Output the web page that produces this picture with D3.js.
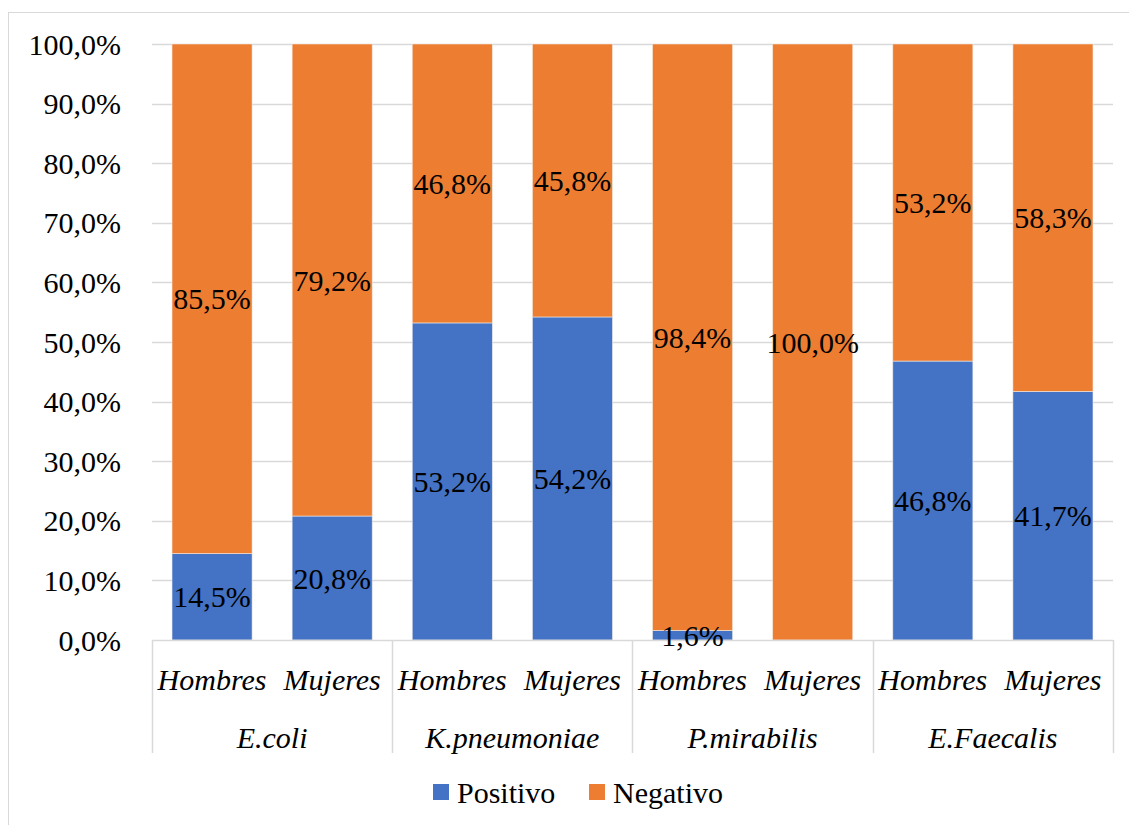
<!DOCTYPE html>
<html>
<head>
<meta charset="utf-8">
<script src="https://cdn.jsdelivr.net/npm/d3@7"></script>
</head>
<body style="margin:0">
<svg id="chart" width="1129" height="825" style="font-family: 'Liberation Serif', 'Times New Roman', serif"></svg>
<script>
// Bacteria groups and sex sub-categories
const organisms = ["E.coli", "K.pneumoniae", "P.mirabilis", "E.Faecalis"];
const sexes = ["Hombres", "Mujeres"];

// Percentage of positive / negative results per bar (organism x sex order)
const positivo = [14.5, 20.8, 53.2, 54.2, 1.6, 0.0, 46.8, 41.7];
const negativo = [85.5, 79.2, 46.8, 45.8, 98.4, 100.0, 53.2, 58.3];

const yTicks = [0, 10, 20, 30, 40, 50, 60, 70, 80, 90, 100];

const seriesNames = ["Positivo", "Negativo"];
const colors = { Positivo: "#4472C4", Negativo: "#ED7D31" };

// Build one row per bar
const rows = [];
organisms.forEach((org, i) => {
  sexes.forEach((sex, j) => {
    const k = i * sexes.length + j;
    rows.push({ id: org + "|" + sex, org, sex, Positivo: positivo[k], Negativo: negativo[k] });
  });
});

const svg = d3.select("#chart");
const plotLeft = 152, plotRight = 1113, plotTop = 44, plotBottom = 640;
const labelFont = "Liberation Serif";
const labelSize = 30;

// Chart frame
svg.append("rect")
  .attr("x", 8.5).attr("y", 12.5)
  .attr("width", 1140).attr("height", 840)
  .attr("fill", "none").attr("stroke", "#d9d9d9").attr("stroke-width", 1);

const x = d3.scaleBand()
  .domain(rows.map(d => d.id))
  .range([plotLeft, plotRight])
  .paddingInner(1 / 3)
  .paddingOuter(1 / 6);

const y = d3.scaleLinear().domain([0, 100]).range([plotBottom, plotTop]);

const fmt = v => d3.format(".1f")(v).replace(".", ",") + "%";

// Gridlines
svg.append("g")
  .selectAll("line")
  .data(yTicks.filter(t => t > 0))
  .join("line")
  .attr("x1", plotLeft).attr("x2", plotRight)
  .attr("y1", d => Math.round(y(d)) + 0.5).attr("y2", d => Math.round(y(d)) + 0.5)
  .attr("stroke", "#d9d9d9").attr("stroke-width", 1.5);

// Shared text styling
function styleText(sel) {
  sel.attr("font-family", labelFont)
    .style("font-family", "'Liberation Serif', 'Times New Roman', serif")
    .attr("font-size", labelSize)
    .attr("fill", "#000");
}

// Y tick labels
svg.append("g")
  .selectAll("text")
  .data(yTicks)
  .join("text")
  .call(styleText)
  .attr("x", 121)
  .attr("y", d => y(d))
  .attr("dy", "0.35em")
  .attr("text-anchor", "end")
  .text(d => fmt(d));

// Stacked bars
const stacked = d3.stack().keys(seriesNames)(rows);

const layers = svg.append("g")
  .selectAll("g")
  .data(stacked)
  .join("g")
  .attr("fill", d => colors[d.key]);

layers.selectAll("rect")
  .data(d => d.map(s => ({ s, key: d.key })))
  .join("rect")
  .attr("x", d => x(d.s.data.id))
  .attr("width", x.bandwidth())
  .attr("y", d => y(d.s[1]))
  .attr("height", d => y(d.s[0]) - y(d.s[1]))
  .attr("stroke", "#f4efe9").attr("stroke-width", 0.8)
  .attr("stroke-opacity", d => (d.s[1] - d.s[0]) > 0 ? 0.7 : 0);

// Category axis line and group separators
svg.append("line")
  .attr("x1", plotLeft).attr("x2", plotRight)
  .attr("y1", plotBottom + 0.5).attr("y2", plotBottom + 0.5)
  .attr("stroke", "#d9d9d9").attr("stroke-width", 1.5);

const groupEdges = organisms.map(o => x(o + "|" + sexes[0]) - x.step() * x.paddingInner() / 2)
  .concat([plotRight]);
groupEdges[0] = plotLeft;
svg.append("g")
  .selectAll("line")
  .data(groupEdges)
  .join("line")
  .attr("x1", d => Math.round(d) + 0.5).attr("x2", d => Math.round(d) + 0.5)
  .attr("y1", plotBottom).attr("y2", 753)
  .attr("stroke", "#d9d9d9").attr("stroke-width", 1.5);

// Data labels (centred in each segment)
const labelData = [];
stacked.forEach(layer => {
  layer.forEach(s => {
    const v = s.data[layer.key];
    if (v > 0) labelData.push({ id: s.data.id, v, mid: (s[0] + s[1]) / 2 });
  });
});
svg.append("g")
  .selectAll("text")
  .data(labelData)
  .join("text")
  .call(styleText)
  .attr("x", d => x(d.id) + x.bandwidth() / 2)
  .attr("y", d => y(d.mid))
  .attr("dy", "0.35em")
  .attr("text-anchor", "middle")
  .text(d => fmt(d.v));

// Sex labels
svg.append("g")
  .selectAll("text")
  .data(rows)
  .join("text")
  .call(styleText)
  .attr("x", d => x(d.id) + x.bandwidth() / 2)
  .attr("y", 679)
  .attr("dy", "0.35em")
  .attr("text-anchor", "middle")
  .attr("font-style", "italic")
  .text(d => d.sex);

// Organism labels
svg.append("g")
  .selectAll("text")
  .data(organisms)
  .join("text")
  .call(styleText)
  .attr("x", (d, i) => (groupEdges[i] + groupEdges[i + 1]) / 2)
  .attr("y", 737)
  .attr("dy", "0.35em")
  .attr("text-anchor", "middle")
  .attr("font-style", "italic")
  .text(d => d);

// Legend
const legendPos = [433, 589];
const legend = svg.append("g")
  .selectAll("g")
  .data(seriesNames)
  .join("g")
  .attr("transform", (d, i) => `translate(${legendPos[i]},784)`);
legend.append("rect")
  .attr("width", 16).attr("height", 16)
  .attr("fill", d => colors[d]);
legend.append("text")
  .call(styleText)
  .attr("x", 24).attr("y", 8)
  .attr("dy", "0.35em")
  .text(d => d);
</script>
</body>
</html>
